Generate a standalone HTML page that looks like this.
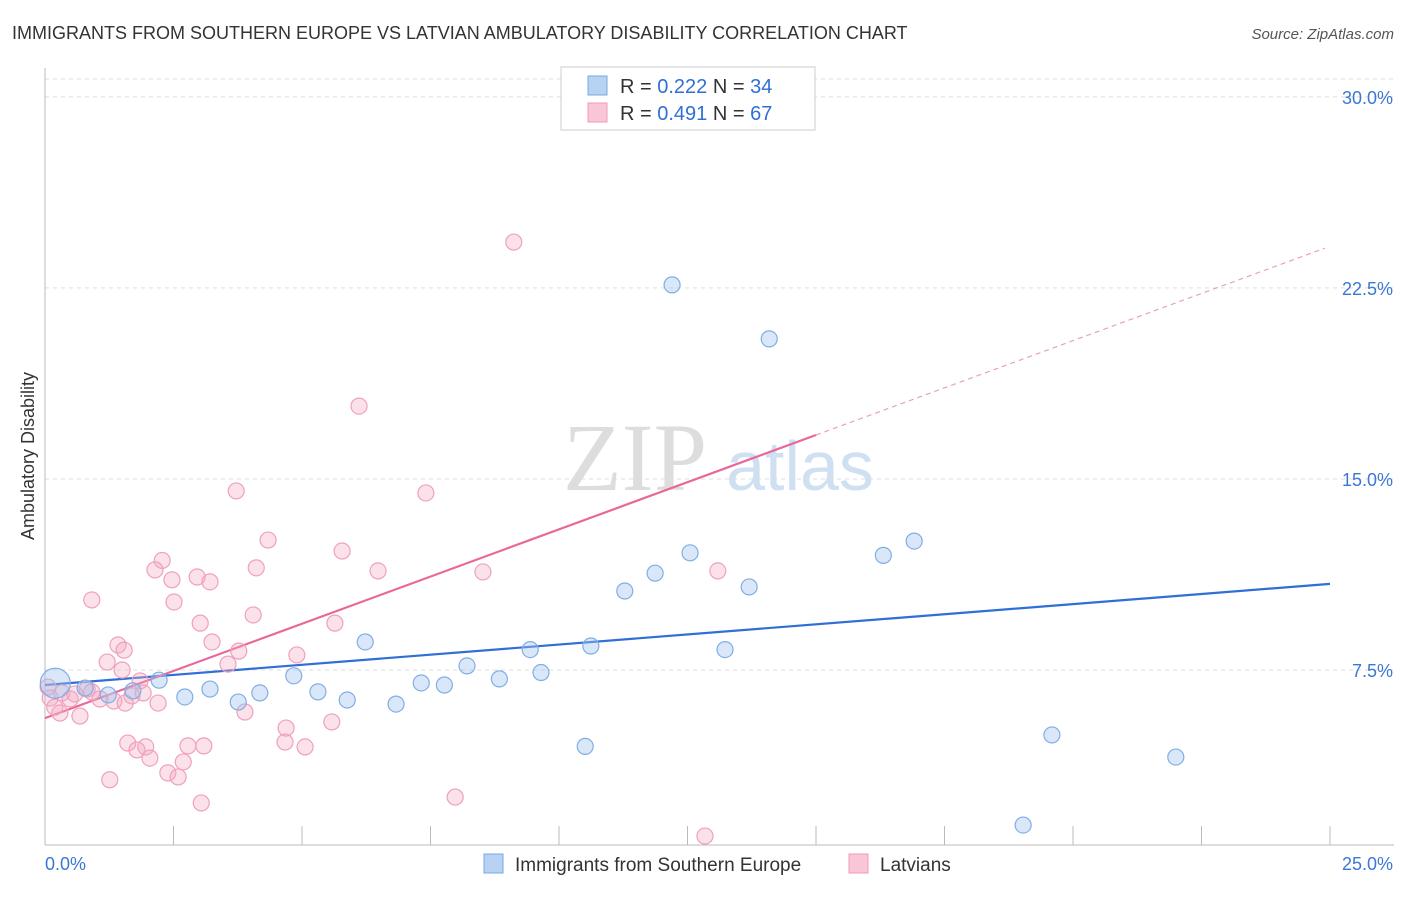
<!DOCTYPE html>
<html><head><meta charset="utf-8"><style>
body{margin:0;background:#fff;font-family:"Liberation Sans",sans-serif;}
</style></head><body>
<svg id="chart" width="1406" height="892" xmlns="http://www.w3.org/2000/svg" font-family="Liberation Sans, sans-serif">
<text x="12" y="39" font-size="18" fill="#333">IMMIGRANTS FROM SOUTHERN EUROPE VS LATVIAN AMBULATORY DISABILITY CORRELATION CHART</text>
<text x="1394" y="39" font-size="15" fill="#555" text-anchor="end" font-style="italic">Source: ZipAtlas.com</text>
<text transform="translate(34,456) rotate(-90)" font-size="18" fill="#333" text-anchor="middle">Ambulatory Disability</text>
<g>
<text x="635" y="490" font-size="96" fill="#ddd" font-family="Liberation Serif, serif" text-anchor="middle">ZIP</text>
<text x="800" y="490" font-size="70" fill="#cfe0f2" text-anchor="middle">atlas</text>
</g>
<g id="grid"></g><g id="axes"></g><g id="lines"></g><g id="pts"></g>
<g>
<rect x="561" y="67" width="254" height="63" fill="#fff" stroke="#ccc"/>
<rect x="588" y="76" width="19" height="19" fill="#b8d2f4" stroke="#7aa8e0"/>
<rect x="588" y="103" width="19" height="19" fill="#f8c6d6" stroke="#f09ab6"/>
<text x="620" y="93" font-size="20" fill="#333">R = <tspan fill="#2f6fd6">0.222</tspan>   N = <tspan fill="#2f6fd6">34</tspan></text>
<text x="620" y="120" font-size="20" fill="#333">R = <tspan fill="#2f6fd6">0.491</tspan>   N = <tspan fill="#2f6fd6">67</tspan></text>
</g>
<g>
<rect x="484" y="854" width="19" height="19" fill="#b8d2f4" stroke="#7aa8e0"/>
<text x="515" y="871" font-size="19" fill="#333">Immigrants from Southern Europe</text>
<rect x="849" y="854" width="19" height="19" fill="#f8c6d6" stroke="#f09ab6"/>
<text x="880" y="871" font-size="19" fill="#333">Latvians</text>
</g>
</svg>
<script>
const xTicks=[0,2.5,5,7.5,10,12.5,15,17.5,20,22.5,25];
const yTicks=[7.5,15,22.5,30];
const yTickLabels=["7.5%","15.0%","22.5%","30.0%"];
const blueX=[0.2,0.78,1.71,2.22,2.72,3.21,3.76,4.18,4.84,5.31,5.88,6.23,6.83,7.32,7.77,8.21,8.84,9.44,9.65,10.51,10.62,11.28,11.87,12.2,12.55,13.23,13.7,14.09,16.31,16.91,19.03,19.59,22.0,1.23];
const blueY=[6.98,6.79,6.68,7.1,6.44,6.75,6.24,6.6,7.27,6.64,6.32,8.6,6.16,6.99,6.91,7.66,7.15,8.3,7.4,4.5,8.44,10.6,11.3,22.62,12.1,8.3,10.76,20.5,12.0,12.56,1.41,4.95,4.08,6.52];
const blueR=[15,8,8,8,8,8,8,8,8,8,8,8,8,8,8,8,8,8,8,8,8,8,8,8,8,8,8,8,8,8,8,8,8,8];
const pinkX=[9.12,14.36,6.11,3.72,7.41,4.34,5.78,2.28,2.14,6.48,8.52,13.09,4.11,2.96,2.47,3.21,0.91,2.51,4.05,3.02,5.64,3.25,1.42,1.54,3.77,4.9,1.21,1.5,3.56,1.85,0.82,1.91,0.33,0.1,0.49,1.07,1.69,1.34,1.56,2.2,0.19,0.29,0.68,3.89,5.58,4.69,1.61,1.96,1.79,2.78,3.09,4.67,5.06,2.04,2.69,2.39,2.59,1.26,3.04,7.98,12.84,0.06,0.58,0.91];
const pinkY=[24.3,29.13,17.86,14.53,14.45,12.6,12.17,11.8,11.43,11.39,11.35,11.39,11.51,11.15,11.04,10.96,10.25,10.17,9.66,9.34,9.34,8.6,8.48,8.28,8.24,8.09,7.81,7.5,7.73,7.07,6.75,6.6,6.6,6.4,6.36,6.36,6.48,6.28,6.2,6.2,6.04,5.81,5.69,5.85,5.46,5.22,4.63,4.48,4.36,4.52,4.52,4.67,4.48,4.04,3.89,3.46,3.3,3.19,2.28,2.51,0.98,6.83,6.56,6.64];
const lineBlue=[6.91,10.88];
const linePink=[5.61,0.741];
const pinkSolidEnd=15;const pinkDashEnd=24.9;
const ns="http://www.w3.org/2000/svg";
const sx=v=>45+v*51.4, sy=v=>861-v*25.47;
function mk(tag,attrs,parent){const e=document.createElementNS(ns,tag);for(const k in attrs)e.setAttribute(k,attrs[k]);document.getElementById(parent).appendChild(e);return e;}
const g=document.getElementById('grid');
const tl=mk('line',{x1:45,x2:1394,y1:79,y2:79,stroke:'#ddd','stroke-dasharray':'4,4'},'grid');


yTicks.forEach((t,i)=>{
 const l=mk('line',{x1:45,x2:1394,y1:sy(t),y2:sy(t),stroke:'#ddd','stroke-dasharray':'4,4'},'grid');
 
 
 const tx=mk('text',{x:1393,y:sy(t)+7,'font-size':18,fill:'#3a78d4','text-anchor':'end'},'axes');
 tx.textContent=yTickLabels[i];
 
 
});
const ax=mk('line',{x1:45,x2:1394,y1:845,y2:845,stroke:'#bbb'},'axes');


const ay=mk('line',{x1:45,x2:45,y1:68,y2:845,stroke:'#bbb'},'axes');


xTicks.forEach(t=>{
 const l=mk('line',{x1:sx(t),x2:sx(t),y1:826,y2:845,stroke:'#bbb'},'axes');
 
 
});
const x0=mk('text',{x:45,y:870,'font-size':18,fill:'#3a78d4'},'axes');x0.textContent='0.0%';


const x1=mk('text',{x:1393,y:870,'font-size':18,fill:'#3a78d4','text-anchor':'end'},'axes');x1.textContent='25.0%';


pinkX.forEach((x,i)=>{
 const c=mk('circle',{cx:sx(x),cy:sy(pinkY[i]),r:8,fill:'rgba(244,168,196,0.35)',stroke:'#f0a0bc','stroke-width':1.2},'pts');
 
 
});
blueX.forEach((x,i)=>{
 const c=mk('circle',{cx:sx(x),cy:sy(blueY[i]),r:blueR[i],fill:'rgba(160,196,240,0.4)',stroke:'#80aee4','stroke-width':1.2},'pts');
 
 
});
const bl=mk('line',{x1:sx(0),y1:sy(lineBlue[0]),x2:sx(25),y2:sy(lineBlue[1]),stroke:'#2f6fd6','stroke-width':2.2},'lines');


const pl=mk('line',{x1:sx(0),y1:sy(linePink[0]),x2:sx(pinkSolidEnd),y2:sy(linePink[0]+linePink[1]*pinkSolidEnd),stroke:'#e8689a','stroke-width':2.2},'lines');


const pd=mk('line',{x1:sx(pinkSolidEnd),y1:sy(linePink[0]+linePink[1]*pinkSolidEnd),x2:sx(pinkDashEnd),y2:sy(linePink[0]+linePink[1]*pinkDashEnd),stroke:'#eaa0bc','stroke-width':1.2,'stroke-dasharray':'5,4'},'lines');


</script>
</body></html>
